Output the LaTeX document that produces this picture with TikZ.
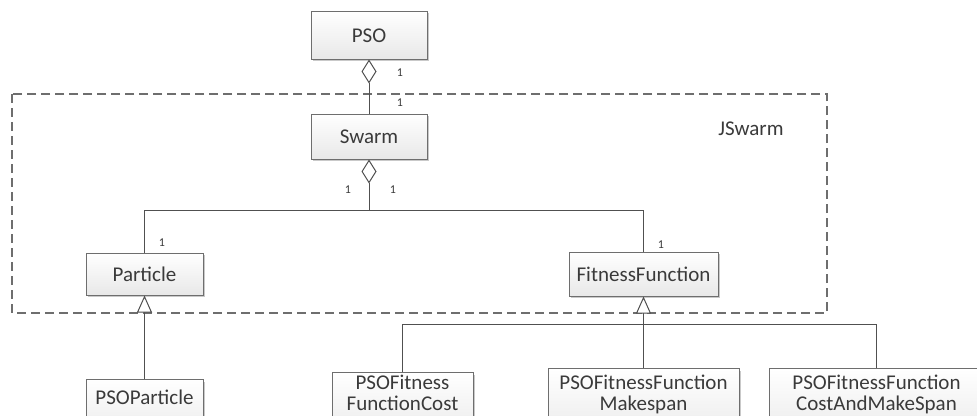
\documentclass[tikz,border=0pt]{standalone}
\usepackage{fontspec}
\setmainfont{Carlito}
\usetikzlibrary{arrows.meta,shadows}

\definecolor{linegray}{HTML}{505050}
\definecolor{boxgray}{HTML}{6E6E6E}
\definecolor{textgray}{HTML}{3A3A3A}

\tikzset{
  clsbase/.style={draw=boxgray, line width=1pt, top color=white, bottom color=black!9,
    drop shadow={shadow xshift=2pt, shadow yshift=-2pt, opacity=0.35, fill=black!60},
    text=textgray, font=\fontsize{21}{21}\selectfont, align=center, inner xsep=2pt},
  cls/.style={clsbase, text height=14pt, text depth=0pt},
  lowcls/.style={clsbase, anchor=north, text depth=30pt},
  conn/.style={draw=linegray, line width=1pt},
  aggr/.style={conn, -{Diamond[open, fill=white, length=24pt, width=15pt, line width=1pt]}},
  gen/.style={conn, -{Triangle[open, fill=white, length=17pt, width=15pt, line width=1pt]}},
  mult/.style={text=textgray, font=\fontsize{12}{12}\selectfont, inner sep=0pt},
  pkg/.style={draw=boxgray, line width=1.2pt, dash pattern=on 9pt off 5pt},
}

\begin{document}
\begin{tikzpicture}[x=1pt, y=-1pt]
  \clip (0,0) rectangle (977,415);
  \fill[white] (0,0) rectangle (977,415);

  % package frame
  \draw[pkg] (12,94) rectangle (827,313);
  \node[text=textgray, font=\fontsize{21}{21}\selectfont, inner sep=0pt] (jswarm) at (751,129) {JSwarm};

  % classes
  \node[cls, minimum width=116pt, minimum height=48pt] (pso) at (369,35) {PSO};
  \node[cls, minimum width=116pt, minimum height=45pt] (swarm) at (369,136.5) {Swarm};
  \node[cls, minimum width=117pt, minimum height=42pt] (particle) at (144.5,274) {Particle};
  \node[cls, minimum width=149pt, minimum height=44pt] (fitness) at (643.5,274) {FitnessFunction};

  % subclasses (their lower edges run past the frame)
  \node[lowcls, minimum width=117pt, inner ysep=10pt] (psoparticle) at (144.5,379) {PSOParticle};
  \node[lowcls, minimum width=141pt, inner ysep=3pt] (cost) at (402.5,372) {PSOFitness\\FunctionCost};
  \node[lowcls, minimum width=191pt, inner ysep=6pt] (makespan) at (643.5,368) {PSOFitnessFunction\\Makespan};
  \node[lowcls, minimum width=215pt, inner ysep=6pt] (both) at (876.5,368) {PSOFitnessFunction\\CostAndMakeSpan};

  % aggregation PSO - Swarm
  \draw[aggr] (swarm.north) -- (pso.south);
  \node[mult] (m1) at (400,73) {1};
  \node[mult] (m2) at (400,103) {1};

  % aggregation Swarm - Particle / FitnessFunction
  \coordinate (aj) at (369,210);
  \draw[conn] (particle.north) |- (aj);
  \draw[conn] (fitness.north) |- (aj);
  \draw[aggr] (aj) -- (swarm.south);
  \node[mult] (m3) at (348,190) {1};
  \node[mult] (m4) at (393,190) {1};
  \node[mult] (m5) at (162,243) {1};
  \node[mult] (m6) at (661,245) {1};

  % generalisations
  \draw[gen] (psoparticle.north) -- (particle.south);
  \coordinate (ij) at (643.5,324);
  \draw[conn] (cost.north) |- (ij);
  \draw[conn] (both.north) |- (ij);
  \draw[gen] (makespan.north) -- (fitness.south);
\end{tikzpicture}
\end{document}
